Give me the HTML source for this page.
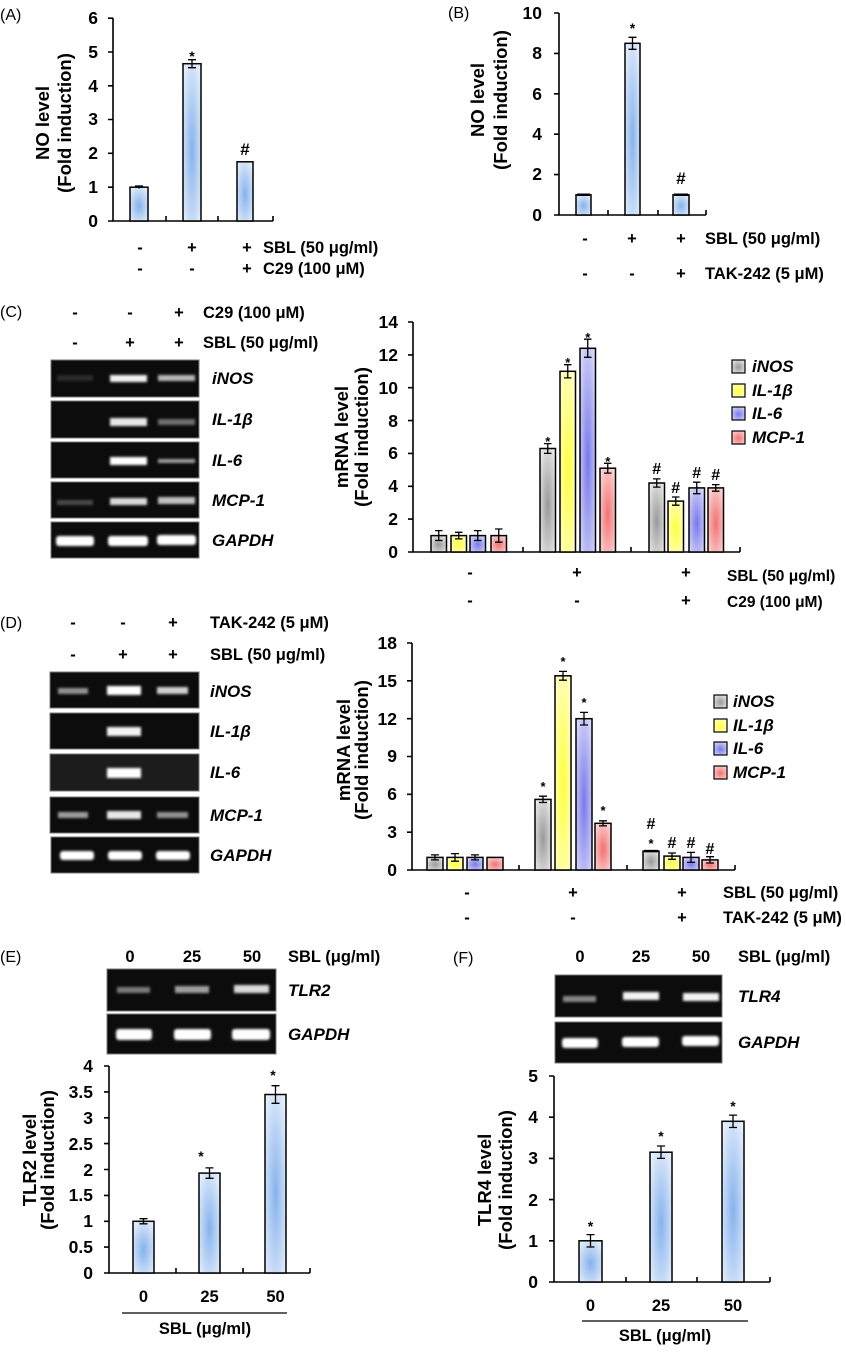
<!DOCTYPE html>
<html><head><meta charset="utf-8"><style>
html,body{margin:0;padding:0;background:#fff}
svg{display:block}
text{font-family:"Liberation Sans",Arial,sans-serif;font-weight:bold;fill:#000}
.tk{font-size:17.5px;text-anchor:end}
.yl{font-size:18.5px;text-anchor:middle}
.h{font-size:16.5px}
.c{text-anchor:middle}
.g{font-size:17px;font-style:italic}
.pl{font-size:16px;font-weight:normal}
.ax{stroke:#000;stroke-width:1.6;fill:none}
.bar{stroke:#000;stroke-width:1.5}
.eb{stroke:#000;stroke-width:1.3;fill:none}
.gel{fill:#0c0c0c;stroke:#777;stroke-width:1}
</style></head><body>
<svg width="846" height="1352" viewBox="0 0 846 1352" xmlns="http://www.w3.org/2000/svg">
<defs>
<radialGradient id="bl" cx="0.5" cy="0.55" r="0.75"><stop offset="0" stop-color="#86b2ec"/><stop offset="1" stop-color="#f2f7fe"/></radialGradient>
<radialGradient id="gr" cx="0.5" cy="0.55" r="0.75"><stop offset="0" stop-color="#999"/><stop offset="1" stop-color="#f4f4f4"/></radialGradient>
<radialGradient id="ye" cx="0.5" cy="0.55" r="0.75"><stop offset="0" stop-color="#ffff40"/><stop offset="1" stop-color="#ffffd8"/></radialGradient>
<radialGradient id="pu" cx="0.5" cy="0.55" r="0.75"><stop offset="0" stop-color="#7878ec"/><stop offset="1" stop-color="#e6e6fb"/></radialGradient>
<radialGradient id="re" cx="0.5" cy="0.55" r="0.75"><stop offset="0" stop-color="#f27272"/><stop offset="1" stop-color="#fde4e4"/></radialGradient>
<filter id="bf" x="-20%" y="-100%" width="140%" height="300%"><feGaussianBlur stdDeviation="1.3"/></filter>
</defs>

<!-- ================= A ================= -->
<text x="0" y="20" class="pl" font-weight="bold">(A)</text>
<g class="ax"><path d="M113,18 V221 H273"/>
<path d="M108,18.2H113M108,52H113M108,85.8H113M108,119.5H113M108,153.3H113M108,187.2H113M108,221H113"/>
<path d="M166,221V216M218,221V216M273,221V216"/></g>
<g class="tk"><text x="98" y="24">6</text><text x="98" y="58">5</text><text x="98" y="92">4</text><text x="98" y="125">3</text><text x="98" y="159">2</text><text x="98" y="193">1</text><text x="98" y="227">0</text></g>
<text class="yl" transform="translate(49,123) rotate(-90)">NO level</text>
<text class="yl" transform="translate(71,123) rotate(-90)">(Fold induction)</text>
<rect class="bar" x="130" y="187.2" width="18" height="33.8" fill="url(#bl)"/>
<rect class="bar" x="183" y="63.7" width="18" height="157.3" fill="url(#bl)"/>
<rect class="bar" x="237" y="161.8" width="16" height="59.2" fill="url(#bl)"/>
<path class="eb" d="M192,59.7V67.7M188,59.7H196M188,67.7H196M139,186V188.5M135,186H143"/>
<text x="192" y="61" class="c" font-size="14">*</text>
<text x="245" y="155" class="c" font-size="17">#</text>
<g class="h"><text x="140" y="253" class="c">-</text><text x="192" y="253" class="c">+</text><text x="247" y="253" class="c">+</text><text x="263" y="253">SBL (50 μg/ml)</text>
<text x="140" y="274" class="c">-</text><text x="192" y="274" class="c">-</text><text x="247" y="274" class="c">+</text><text x="263" y="274">C29 (100 μM)</text></g>

<!-- ================= B ================= -->
<text x="448" y="18" class="pl">(B)</text>
<g class="ax"><path d="M559,13 V215 H706"/>
<path d="M554,13H559M554,53.4H559M554,93.8H559M554,134.2H559M554,174.6H559M554,215H559"/>
<path d="M608,215V210M658,215V210M706,215V210"/></g>
<g class="tk"><text x="542" y="19">10</text><text x="542" y="59">8</text><text x="542" y="100">6</text><text x="542" y="140">4</text><text x="542" y="180">2</text><text x="542" y="221">0</text></g>
<text class="yl" transform="translate(484,100) rotate(-90)">NO level</text>
<text class="yl" transform="translate(507,100) rotate(-90)">(Fold induction)</text>
<rect class="bar" x="576" y="194.8" width="15" height="20.2" fill="url(#bl)"/>
<rect class="bar" x="625" y="43.3" width="15" height="171.7" fill="url(#bl)"/>
<rect class="bar" x="673" y="194.8" width="16" height="20.2" fill="url(#bl)"/>
<path class="eb" d="M632.5,37.3V49.3M628.5,37.3H636.5M628.5,49.3H636.5"/>
<path d="M577,194.8H590M674,194.8H688" stroke="#000" stroke-width="2.5"/>
<text x="632.5" y="33" class="c" font-size="14">*</text>
<text x="681" y="184" class="c" font-size="17">#</text>
<g class="h"><text x="585" y="244" class="c">-</text><text x="632" y="244" class="c">+</text><text x="681" y="244" class="c">+</text><text x="705" y="244">SBL (50 μg/ml)</text>
<text x="585" y="279" class="c">-</text><text x="632" y="279" class="c">-</text><text x="681" y="279" class="c">+</text><text x="705" y="279">TAK-242  (5 μM)</text></g>

<!-- ================= C gel ================= -->
<text x="0" y="317" class="pl" font-weight="bold">(C)</text>
<g class="h"><text x="75" y="318" class="c">-</text><text x="130" y="318" class="c">-</text><text x="179" y="318" class="c">+</text><text x="203" y="318">C29 (100 μM)</text>
<text x="75" y="348" class="c">-</text><text x="130" y="348" class="c">+</text><text x="179" y="348" class="c">+</text><text x="203" y="348">SBL (50 μg/ml)</text></g>
<rect class="gel" x="51" y="360" width="148" height="37"/>
<rect class="gel" x="51" y="401" width="148" height="37"/>
<rect class="gel" x="51" y="442" width="148" height="36"/>
<rect class="gel" x="51" y="482" width="148" height="36"/>
<rect class="gel" x="51" y="522" width="148" height="36"/>
<g filter="url(#bf)" fill="#fff">
<rect x="57" y="375" width="36" height="6" opacity=".12"/><rect x="110" y="375" width="37" height="7" opacity=".95"/><rect x="158" y="375" width="37" height="6" opacity=".7"/>
<rect x="110" y="418" width="37" height="8" opacity=".9"/><rect x="158" y="419" width="37" height="6" opacity=".4"/>
<rect x="110" y="457" width="37" height="8" opacity="1"/><rect x="158" y="459" width="37" height="4" opacity=".6"/>
<rect x="57" y="500" width="36" height="5" opacity=".25"/><rect x="110" y="498" width="37" height="7" opacity=".85"/><rect x="158" y="497" width="37" height="7" opacity=".75"/>
<rect x="56" y="536" width="38" height="10" rx="3" opacity="1"/><rect x="108" y="536" width="40" height="10" rx="3"/><rect x="157" y="535" width="39" height="10" rx="3"/>
</g>
<g class="g"><text x="212" y="384">iNOS</text><text x="212" y="425">IL-1β</text><text x="212" y="466">IL-6</text><text x="212" y="506">MCP-1</text><text x="212" y="546">GAPDH</text></g>

<!-- ================= C chart ================= -->
<g class="ax"><path d="M413,322 V552 H740"/>
<path d="M408,322H413M408,354.9H413M408,387.7H413M408,420.6H413M408,453.4H413M408,486.3H413M408,519.1H413M408,552H413"/>
<path d="M523,552V547M631,552V547M740,552V547"/></g>
<g class="tk"><text x="398" y="328">14</text><text x="398" y="361">12</text><text x="398" y="394">10</text><text x="398" y="427">8</text><text x="398" y="459">6</text><text x="398" y="492">4</text><text x="398" y="525">2</text><text x="398" y="558">0</text></g>
<text class="yl" transform="translate(348,437) rotate(-90)">mRNA level</text>
<text class="yl" transform="translate(368,437) rotate(-90)">(Fold induction)</text>
<rect class="bar" x="431" y="535.6" width="15.5" height="16.4" fill="url(#gr)"/>
<rect class="bar" x="451" y="535.6" width="15.5" height="16.4" fill="url(#ye)"/>
<rect class="bar" x="470" y="535.6" width="15.5" height="16.4" fill="url(#pu)"/>
<rect class="bar" x="491" y="535.6" width="15.5" height="16.4" fill="url(#re)"/>
<rect class="bar" x="540" y="448.5" width="15.5" height="103.5" fill="url(#gr)"/>
<rect class="bar" x="560" y="371.3" width="15.5" height="180.7" fill="url(#ye)"/>
<rect class="bar" x="580" y="348.3" width="15.5" height="203.7" fill="url(#pu)"/>
<rect class="bar" x="600" y="468.2" width="15.5" height="83.8" fill="url(#re)"/>
<rect class="bar" x="649" y="483" width="15.5" height="69" fill="url(#gr)"/>
<rect class="bar" x="668" y="501.1" width="15.5" height="50.9" fill="url(#ye)"/>
<rect class="bar" x="689" y="487.9" width="15.5" height="64.1" fill="url(#pu)"/>
<rect class="bar" x="708" y="487.9" width="15.5" height="64.1" fill="url(#re)"/>
<path class="eb" d="M438.75,530.6V540.5M435,530.6H442.5M435,540.5H442.5
M458.75,532.3V538.9M455,532.3H462.5M455,538.9H462.5
M477.75,530.6V540.5M474,530.6H481.5M474,540.5H481.5
M498.75,529V542.2M495,529H502.5M495,542.2H502.5
M547.75,443.6V453.4M544,443.6H551.5M544,453.4H551.5
M567.75,364.7V377.9M564,364.7H571.5M564,377.9H571.5
M587.75,339.2V357.3M584,339.2H591.5M584,357.3H591.5
M607.75,463.3V473.1M604,463.3H611.5M604,473.1H611.5
M656.75,478.9V487.1M653,478.9H660.5M653,487.1H660.5
M675.75,497V505.2M672,497H679.5M672,505.2H679.5
M696.75,482.2V493.7M693,482.2H700.5M693,493.7H700.5
M715.75,484.6V491.2M712,484.6H719.5M712,491.2H719.5"/>
<g font-size="13" class="c"><text x="547.75" y="446">*</text><text x="567.75" y="367">*</text><text x="587.75" y="342">*</text><text x="607.75" y="466">*</text></g>
<g font-size="16" class="c"><text x="656.75" y="474">#</text><text x="675.75" y="493">#</text><text x="696.75" y="478">#</text><text x="715.75" y="480">#</text></g>
<rect x="732" y="360" width="13" height="13" fill="url(#gr)" stroke="#000" stroke-width="1.2"/>
<rect x="732" y="384" width="13" height="13" fill="url(#ye)" stroke="#000" stroke-width="1.2"/>
<rect x="732" y="407" width="13" height="13" fill="url(#pu)" stroke="#000" stroke-width="1.2"/>
<rect x="732" y="431" width="13" height="13" fill="url(#re)" stroke="#000" stroke-width="1.2"/>
<g class="g"><text x="752" y="372">iNOS</text><text x="752" y="396">IL-1β</text><text x="752" y="419">IL-6</text><text x="752" y="443">MCP-1</text></g>
<g class="h"><text x="470" y="578" class="c">-</text><text x="577" y="578" class="c">+</text><text x="686" y="578" class="c">+</text><text x="727" y="581" font-size="15.5">SBL (50 μg/ml)</text>
<text x="470" y="606" class="c">-</text><text x="577" y="606" class="c">-</text><text x="686" y="606" class="c">+</text><text x="727" y="607" font-size="15.5">C29 (100 μM)</text></g>

<!-- ================= D gel ================= -->
<text x="0" y="628" class="pl" font-weight="bold">(D)</text>
<g class="h"><text x="73" y="628" class="c">-</text><text x="123" y="628" class="c">-</text><text x="173" y="628" class="c">+</text><text x="210" y="628">TAK-242  (5 μM)</text>
<text x="73" y="660" class="c">-</text><text x="123" y="660" class="c">+</text><text x="173" y="660" class="c">+</text><text x="210" y="660">SBL (50 μg/ml)</text></g>
<rect class="gel" x="50" y="672" width="149" height="36"/>
<rect class="gel" x="50" y="713" width="149" height="36"/>
<rect class="gel" x="50" y="754" width="149" height="37" style="fill:#1c1c1c"/>
<rect class="gel" x="50" y="797" width="149" height="36"/>
<rect class="gel" x="51" y="837" width="148" height="36"/>
<g filter="url(#bf)" fill="#fff">
<rect x="58" y="688" width="30" height="6" opacity=".55"/><rect x="107" y="686" width="34" height="9" opacity="1"/><rect x="157" y="687" width="31" height="7" opacity=".8"/>
<rect x="107" y="727" width="34" height="9" opacity=".95"/>
<rect x="107" y="768" width="34" height="10" opacity="1"/>
<rect x="58" y="812" width="30" height="6" opacity=".6"/><rect x="107" y="811" width="34" height="8" opacity=".9"/><rect x="157" y="812" width="31" height="6" opacity=".55"/>
<rect x="60" y="851" width="34" height="9" rx="3"/><rect x="108" y="851" width="34" height="9" rx="3"/><rect x="156" y="851" width="34" height="9" rx="3"/>
</g>
<g class="g"><text x="210" y="697">iNOS</text><text x="210" y="737">IL-1β</text><text x="210" y="778">IL-6</text><text x="210" y="821">MCP-1</text><text x="210" y="861">GAPDH</text></g>

<!-- ================= D chart ================= -->
<g class="ax"><path d="M412,643 V870 H735"/>
<path d="M407,643H412M407,680.8H412M407,718.7H412M407,756.5H412M407,794.3H412M407,832.2H412M407,870H412"/>
<path d="M519,870V865M627,870V865M735,870V865"/></g>
<g class="tk"><text x="397" y="649">18</text><text x="397" y="687">15</text><text x="397" y="725">12</text><text x="397" y="762">9</text><text x="397" y="800">6</text><text x="397" y="838">3</text><text x="397" y="876">0</text></g>
<text class="yl" transform="translate(350,750) rotate(-90)">mRNA level</text>
<text class="yl" transform="translate(368,750) rotate(-90)">(Fold induction)</text>
<rect class="bar" x="427" y="857.4" width="16" height="12.6" fill="url(#gr)"/>
<rect class="bar" x="447" y="857.4" width="16" height="12.6" fill="url(#ye)"/>
<rect class="bar" x="467" y="857.4" width="16" height="12.6" fill="url(#pu)"/>
<rect class="bar" x="487" y="857.4" width="16" height="12.6" fill="url(#re)"/>
<rect class="bar" x="535" y="799.4" width="16" height="70.6" fill="url(#gr)"/>
<rect class="bar" x="555" y="675.8" width="16" height="194.2" fill="url(#ye)"/>
<rect class="bar" x="576" y="718.7" width="16" height="151.3" fill="url(#pu)"/>
<rect class="bar" x="595" y="823.3" width="16" height="46.7" fill="url(#re)"/>
<rect class="bar" x="643" y="851.1" width="16" height="18.9" fill="url(#gr)"/>
<rect class="bar" x="664" y="856.1" width="16" height="13.9" fill="url(#ye)"/>
<rect class="bar" x="683" y="857.4" width="16" height="12.6" fill="url(#pu)"/>
<rect class="bar" x="702" y="859.9" width="16" height="10.1" fill="url(#re)"/>
<path class="eb" d="M435,854.9V859.9M431,854.9H439M431,859.9H439
M455,853.6V861.2M451,853.6H459M451,861.2H459
M475,854.9V859.9M471,854.9H479M471,859.9H479
M543,796.2V802.5M539,796.2H547M539,802.5H547
M563,671.4V680.2M559,671.4H567M559,680.2H567
M584,712.4V725M580,712.4H588M580,725H588
M603,820.8V825.9M599,820.8H607M599,825.9H607
M672,853V859.3M668,853H676M668,859.3H676
M691,852.4V862.4M687,852.4H695M687,862.4H695
M710,856.7V863M706,856.7H714M706,863H714"/>
<path d="M644,851.1H658" stroke="#000" stroke-width="2.5"/>
<g font-size="13" class="c"><text x="543" y="791">*</text><text x="563" y="666">*</text><text x="584" y="707">*</text><text x="603" y="815">*</text><text x="651" y="848">*</text></g>
<g font-size="16" class="c"><text x="651" y="829">#</text><text x="672" y="848">#</text><text x="691" y="848">#</text><text x="710" y="854">#</text></g>
<rect x="714" y="695" width="13" height="13" fill="url(#gr)" stroke="#000" stroke-width="1.2"/>
<rect x="714" y="719" width="13" height="13" fill="url(#ye)" stroke="#000" stroke-width="1.2"/>
<rect x="714" y="742" width="13" height="13" fill="url(#pu)" stroke="#000" stroke-width="1.2"/>
<rect x="714" y="766" width="13" height="13" fill="url(#re)" stroke="#000" stroke-width="1.2"/>
<g class="g"><text x="733" y="707">iNOS</text><text x="733" y="731">IL-1β</text><text x="733" y="754">IL-6</text><text x="733" y="778">MCP-1</text></g>
<g class="h"><text x="467" y="898" class="c">-</text><text x="573" y="898" class="c">+</text><text x="682" y="898" class="c">+</text><text x="723" y="898">SBL (50 μg/ml)</text>
<text x="467" y="923" class="c">-</text><text x="573" y="923" class="c">-</text><text x="682" y="923" class="c">+</text><text x="723" y="923">TAK-242  (5 μM)</text></g>

<!-- ================= E ================= -->
<text x="0" y="962" class="pl" font-weight="bold">(E)</text>
<g class="h"><text x="130" y="962" class="c">0</text><text x="192" y="962" class="c">25</text><text x="252" y="962" class="c">50</text><text x="288" y="962">SBL (μg/ml)</text></g>
<rect class="gel" x="107" y="969" width="169" height="42"/>
<rect class="gel" x="107" y="1014" width="169" height="40"/>
<g filter="url(#bf)" fill="#fff">
<rect x="117" y="987" width="33" height="6" opacity=".45"/><rect x="175" y="986" width="34" height="7" opacity=".6"/><rect x="234" y="985" width="35" height="8" opacity=".85"/>
<rect x="116" y="1029" width="36" height="11" rx="3"/><rect x="174" y="1029" width="37" height="11" rx="3"/><rect x="232" y="1029" width="38" height="11" rx="3"/>
</g>
<g class="g"><text x="288" y="996">TLR2</text><text x="288" y="1040">GAPDH</text></g>
<g class="ax"><path d="M109,1066 V1273 H310"/>
<path d="M104,1066H109M104,1091.9H109M104,1117.8H109M104,1143.6H109M104,1169.5H109M104,1195.4H109M104,1221.3H109M104,1247.1H109M104,1273H109"/>
<path d="M176,1273V1268M243,1273V1268M310,1273V1268"/></g>
<g class="tk"><text x="93" y="1072">4</text><text x="93" y="1098">3.5</text><text x="93" y="1124">3</text><text x="93" y="1150">2.5</text><text x="93" y="1176">2</text><text x="93" y="1201">1.5</text><text x="93" y="1227">1</text><text x="93" y="1253">0.5</text><text x="93" y="1279">0</text></g>
<text class="yl" transform="translate(36,1160) rotate(-90)">TLR2 level</text>
<text class="yl" transform="translate(54,1160) rotate(-90)">(Fold induction)</text>
<rect class="bar" x="133" y="1221.3" width="21" height="51.7" fill="url(#bl)"/>
<rect class="bar" x="199" y="1173.1" width="21" height="99.9" fill="url(#bl)"/>
<rect class="bar" x="265" y="1094.5" width="21" height="178.5" fill="url(#bl)"/>
<path class="eb" d="M143.5,1218.7V1223.8M139.5,1218.7H147.5M139.5,1223.8H147.5
M209.5,1167.9V1178.3M205.5,1167.9H213.5M205.5,1178.3H213.5
M275.5,1085.7V1103.3M271.5,1085.7H279.5M271.5,1103.3H279.5"/>
<g font-size="14" class="c"><text x="201" y="1161">*</text><text x="273" y="1080">*</text></g>
<g class="h"><text x="143.5" y="1302" class="c">0</text><text x="209.5" y="1302" class="c">25</text><text x="275.5" y="1302" class="c">50</text></g>
<path d="M122,1313H287" stroke="#000" stroke-width="1.3"/>
<text x="205" y="1334" class="h c">SBL (μg/ml)</text>

<!-- ================= F ================= -->
<text x="453" y="963" class="pl" font-weight="bold">(F)</text>
<g class="h"><text x="580" y="962" class="c">0</text><text x="641" y="962" class="c">25</text><text x="701" y="962" class="c">50</text><text x="738" y="962">SBL (μg/ml)</text></g>
<rect class="gel" x="555" y="975" width="167" height="42"/>
<rect class="gel" x="555" y="1022" width="167" height="41"/>
<g filter="url(#bf)" fill="#fff">
<rect x="563" y="996" width="33" height="6" opacity=".5"/><rect x="623" y="992" width="36" height="8" opacity=".95"/><rect x="683" y="993" width="36" height="8" opacity=".95"/>
<rect x="562" y="1038" width="36" height="10" rx="3"/><rect x="622" y="1037" width="37" height="10" rx="3"/><rect x="682" y="1036" width="37" height="10" rx="3"/>
</g>
<g class="g"><text x="738" y="1002">TLR4</text><text x="738" y="1048">GAPDH</text></g>
<g class="ax"><path d="M554,1076 V1282 H770"/>
<path d="M549,1076H554M549,1117.2H554M549,1158.4H554M549,1199.6H554M549,1240.8H554M549,1282H554"/>
<path d="M626,1282V1277M697,1282V1277M770,1282V1277"/></g>
<g class="tk"><text x="538" y="1082">5</text><text x="538" y="1123">4</text><text x="538" y="1164">3</text><text x="538" y="1206">2</text><text x="538" y="1247">1</text><text x="538" y="1288">0</text></g>
<text class="yl" transform="translate(491,1180) rotate(-90)">TLR4 level</text>
<text class="yl" transform="translate(512,1180) rotate(-90)">(Fold induction)</text>
<rect class="bar" x="579" y="1240.8" width="23" height="41.2" fill="url(#bl)"/>
<rect class="bar" x="650" y="1152.2" width="22" height="129.8" fill="url(#bl)"/>
<rect class="bar" x="722" y="1121.3" width="22" height="160.7" fill="url(#bl)"/>
<path class="eb" d="M590.5,1234.6V1247M586.5,1234.6H594.5M586.5,1247H594.5
M661,1146V1158.4M657,1146H665M657,1158.4H665
M733,1115.1V1127.5M729,1115.1H737M729,1127.5H737"/>
<g font-size="14" class="c"><text x="590.5" y="1231">*</text><text x="661" y="1141">*</text><text x="733" y="1111">*</text></g>
<g class="h"><text x="590.5" y="1311" class="c">0</text><text x="661" y="1311" class="c">25</text><text x="733" y="1311" class="c">50</text></g>
<path d="M582,1321H748" stroke="#000" stroke-width="1.3"/>
<text x="665" y="1341" class="h c">SBL (μg/ml)</text>
</svg>
</body></html>
